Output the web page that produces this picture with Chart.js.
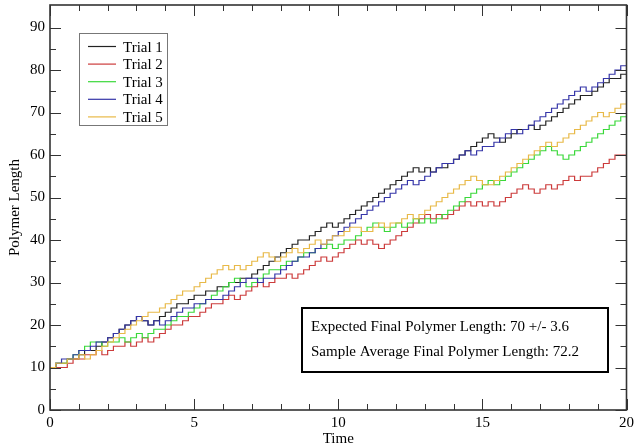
<!DOCTYPE html>
<html>
<head>
<meta charset="utf-8">
<script src="https://cdn.jsdelivr.net/npm/chart.js@4.4.1/dist/chart.umd.min.js"></script>
<style>
  html, body { margin: 0; padding: 0; background: #fff; }
  canvas { display: block; }
</style>
</head>
<body>
<canvas id="chart" width="638" height="445"></canvas>
<script>
const times = [
  0, 0.2, 0.4, 0.6, 0.8, 1, 1.2, 1.4, 1.6, 1.8, 2, 2.2, 2.4, 2.6, 2.8, 3, 3.2, 3.4, 3.6, 3.8,
  4, 4.2, 4.4, 4.6, 4.8, 5, 5.2, 5.4, 5.6, 5.8, 6, 6.2, 6.4, 6.6, 6.8, 7, 7.2, 7.4, 7.6, 7.8,
  8, 8.2, 8.4, 8.6, 8.8, 9, 9.2, 9.4, 9.6, 9.8, 10, 10.2, 10.4, 10.6, 10.8, 11, 11.2, 11.4, 11.6, 11.8,
  12, 12.2, 12.4, 12.6, 12.8, 13, 13.2, 13.4, 13.6, 13.8, 14, 14.2, 14.4, 14.6, 14.8, 15, 15.2, 15.4, 15.6, 15.8,
  16, 16.2, 16.4, 16.6, 16.8, 17, 17.2, 17.4, 17.6, 17.8, 18, 18.2, 18.4, 18.6, 18.8, 19, 19.2, 19.4, 19.6, 19.8, 20
]

const trial1 = [10,
  11,11,12,12,13, 14,14,15,16,17, 18,19,20,21,22, 21,20,21,22,23, 24,25,25,26,27,
  27,28,28,29,29, 30,30,31,31,32, 33,34,35,36,37, 38,39,40,40,41, 42,43,44,43,44,
  45,46,47,48,49, 50,51,52,53,54, 55,56,57,56,57, 56,57,57,58,59, 60,61,62,63,64,
  65,64,63,64,65, 66,66,67,66,67, 68,69,70,71,72, 73,74,74,75,76, 77,78,78,79,79]

const trial2 = [10,
  10,10,11,12,12, 13,13,14,13,14, 15,15,16,15,16, 17,16,17,18,19, 20,20,21,22,22,
  23,24,25,25,26, 27,26,27,28,29, 30,29,30,31,31, 32,31,32,33,34, 35,36,35,36,37,
  38,39,40,39,40, 39,38,39,40,41, 42,43,44,45,46, 45,46,45,46,47, 48,49,48,49,48,
  49,48,49,50,51, 52,53,52,51,52, 53,52,53,54,55, 54,55,55,56,57, 58,59,60,60,59]

const trial3 = [10,
  11,11,12,13,14, 15,16,16,15,16, 16,17,16,17,18, 17,18,19,19,20, 21,22,22,23,24,
  25,26,27,28,29, 30,31,30,29,30, 31,32,33,33,34, 35,35,36,37,37, 38,38,39,38,39,
  40,40,41,42,43, 44,43,42,43,44, 43,44,45,44,45, 44,45,46,47,48, 49,50,51,52,53,
  54,53,54,55,56, 57,58,59,60,61, 62,61,60,59,60, 61,62,63,64,65, 66,67,68,69,69]

const trial4 = [10,
  11,12,12,13,14, 14,15,16,16,17, 18,19,20,21,22, 21,20,21,20,21, 22,23,24,24,25,
  25,26,26,26,27, 28,29,30,31,31, 30,31,31,32,33, 34,35,36,36,37, 38,39,40,41,42,
  43,44,45,46,47, 48,49,50,51,52, 53,54,53,54,55, 56,57,58,58,59, 60,61,60,61,62,
  62,63,64,65,66, 65,66,67,68,69, 70,71,72,73,74, 75,76,75,76,77, 78,79,80,81,81]

const trial5 = [10,
  11,11,12,12,13, 12,13,14,15,16, 17,18,19,20,21, 22,23,23,24,25, 26,27,28,28,29,
  30,31,32,33,34, 33,34,33,34,35, 36,37,36,35,36, 37,38,37,38,39, 40,39,40,41,41,
  42,43,43,42,42, 43,44,43,44,44, 45,46,45,46,47, 48,49,50,51,52, 53,54,55,54,53,
  53,54,55,56,57, 58,59,60,61,62, 63,62,63,64,65, 66,67,68,69,70, 69,70,71,72,73]

const seriesNames = ['Trial 1', 'Trial 2', 'Trial 3', 'Trial 4', 'Trial 5']
const seriesColors = ['#222222', '#cc3b3b', '#3ad83a', '#3535a8', '#e8b947']

const xTicks = [0, 5, 10, 15, 20]
const xMinorTicks = [1, 2, 3, 4, 6, 7, 8, 9, 11, 12, 13, 14, 16, 17, 18, 19]
const yTicks = [0, 10, 20, 30, 40, 50, 60, 70, 80, 90]
const yMinorTicks = [5, 15, 25, 35, 45, 55, 65, 75, 85]

const notes = [
  'Expected Final Polymer Length: 70 +/- 3.6',
  'Sample Average Final Polymer Length: 72.2'
]

const serif = '"Liberation Serif", "Times New Roman", serif'
Chart.defaults.font.family = serif
Chart.defaults.font.size = 15
Chart.defaults.color = '#000'

const allSeries = [trial1, trial2, trial3, trial4, trial5]
const datasets = allSeries.map((vals, i) => ({
  label: seriesNames[i],
  data: vals.map((v, k) => ({ x: times[k], y: v })),
  borderColor: seriesColors[i],
  borderWidth: 1.2,
  pointRadius: 0,
  stepped: 'before',
  fill: false,
  order: 5 - i
}))

// frame plus inward ticks on all four sides
const frameTicks = {
  id: 'frameTicks',
  afterDatasetsDraw(chart) {
    const { ctx, chartArea: a, scales } = chart
    const sx = scales.x, sy = scales.y
    ctx.save()
    ctx.strokeStyle = '#333'
    ctx.lineWidth = 1
    const seg = (x1, y1, x2, y2) => {
      ctx.beginPath(); ctx.moveTo(x1, y1); ctx.lineTo(x2, y2); ctx.stroke()
    }
    xTicks.forEach(v => {
      const px = Math.round(sx.getPixelForValue(v)) + 0.5
      seg(px, a.bottom, px, a.bottom - 11)
      seg(px, a.top, px, a.top + 11)
    })
    xMinorTicks.forEach(v => {
      const px = Math.round(sx.getPixelForValue(v)) + 0.5
      seg(px, a.bottom, px, a.bottom - 6)
      seg(px, a.top, px, a.top + 6)
    })
    yTicks.forEach(v => {
      const py = Math.round(sy.getPixelForValue(v)) + 0.5
      seg(a.left, py, a.left + 11, py)
      seg(a.right, py, a.right - 11, py)
    })
    yMinorTicks.forEach(v => {
      const py = Math.round(sy.getPixelForValue(v)) + 0.5
      seg(a.left, py, a.left + 6, py)
      seg(a.right, py, a.right - 6, py)
    })
    ctx.lineWidth = 1.6
    ctx.strokeRect(a.left, a.top, a.right - a.left, a.bottom - a.top)
    ctx.restore()
  }
}

// legend box and the note box
const boxes = {
  id: 'boxes',
  afterDraw(chart) {
    const ctx = chart.ctx
    ctx.save()
    ctx.font = '15px ' + serif
    ctx.textBaseline = 'alphabetic'

    ctx.fillStyle = '#fff'
    ctx.fillRect(79.5, 33.5, 88, 92)
    ctx.strokeStyle = '#777'
    ctx.lineWidth = 1
    ctx.strokeRect(79.5, 33.5, 88, 92)
    chart.data.datasets.forEach((ds, i) => {
      const yy = 46.5 + i * 17.6
      ctx.strokeStyle = ds.borderColor
      ctx.lineWidth = 1.2
      ctx.beginPath(); ctx.moveTo(88, yy); ctx.lineTo(116, yy); ctx.stroke()
      ctx.fillStyle = '#000'
      ctx.fillText(ds.label, 123, yy + 5)
    })

    ctx.fillStyle = '#fff'
    ctx.fillRect(302, 308, 306, 64)
    ctx.strokeStyle = '#000'
    ctx.lineWidth = 2
    ctx.strokeRect(302, 308, 306, 64)
    ctx.fillStyle = '#000'
    notes.forEach((t, i) => ctx.fillText(t, 311, 331 + i * 25))
    ctx.restore()
  }
}

new Chart(document.getElementById('chart'), {
  type: 'line',
  data: { datasets: datasets },
  options: {
    responsive: false,
    animation: false,
    layout: { padding: { top: 5, right: 10, left: 0, bottom: 0 } },
    plugins: {
      legend: { display: false },
      tooltip: { enabled: false }
    },
    scales: {
      x: {
        type: 'linear',
        min: 0,
        max: 20,
        grid: { display: false, drawTicks: false },
        border: { display: false },
        ticks: { padding: 4, font: { size: 15 } },
        afterBuildTicks: s => { s.ticks = xTicks.map(v => ({ value: v })) },
        afterFit: s => { s.height = 35 },
        title: { display: true, text: 'Time', font: { size: 15 }, padding: { top: 0, bottom: -3 } }
      },
      y: {
        type: 'linear',
        min: 0,
        max: 95.3,
        grid: { display: false, drawTicks: false },
        border: { display: false },
        ticks: { padding: 5, font: { size: 15 } },
        afterBuildTicks: s => { s.ticks = yTicks.map(v => ({ value: v })) },
        afterFit: s => { s.width = 50; s.paddingTop = 0; s.paddingBottom = 0 },
        title: { display: true, text: 'Polymer Length', font: { size: 15 }, padding: { top: 6, bottom: 0 } }
      }
    }
  },
  plugins: [frameTicks, boxes]
})
</script>
</body>
</html>
